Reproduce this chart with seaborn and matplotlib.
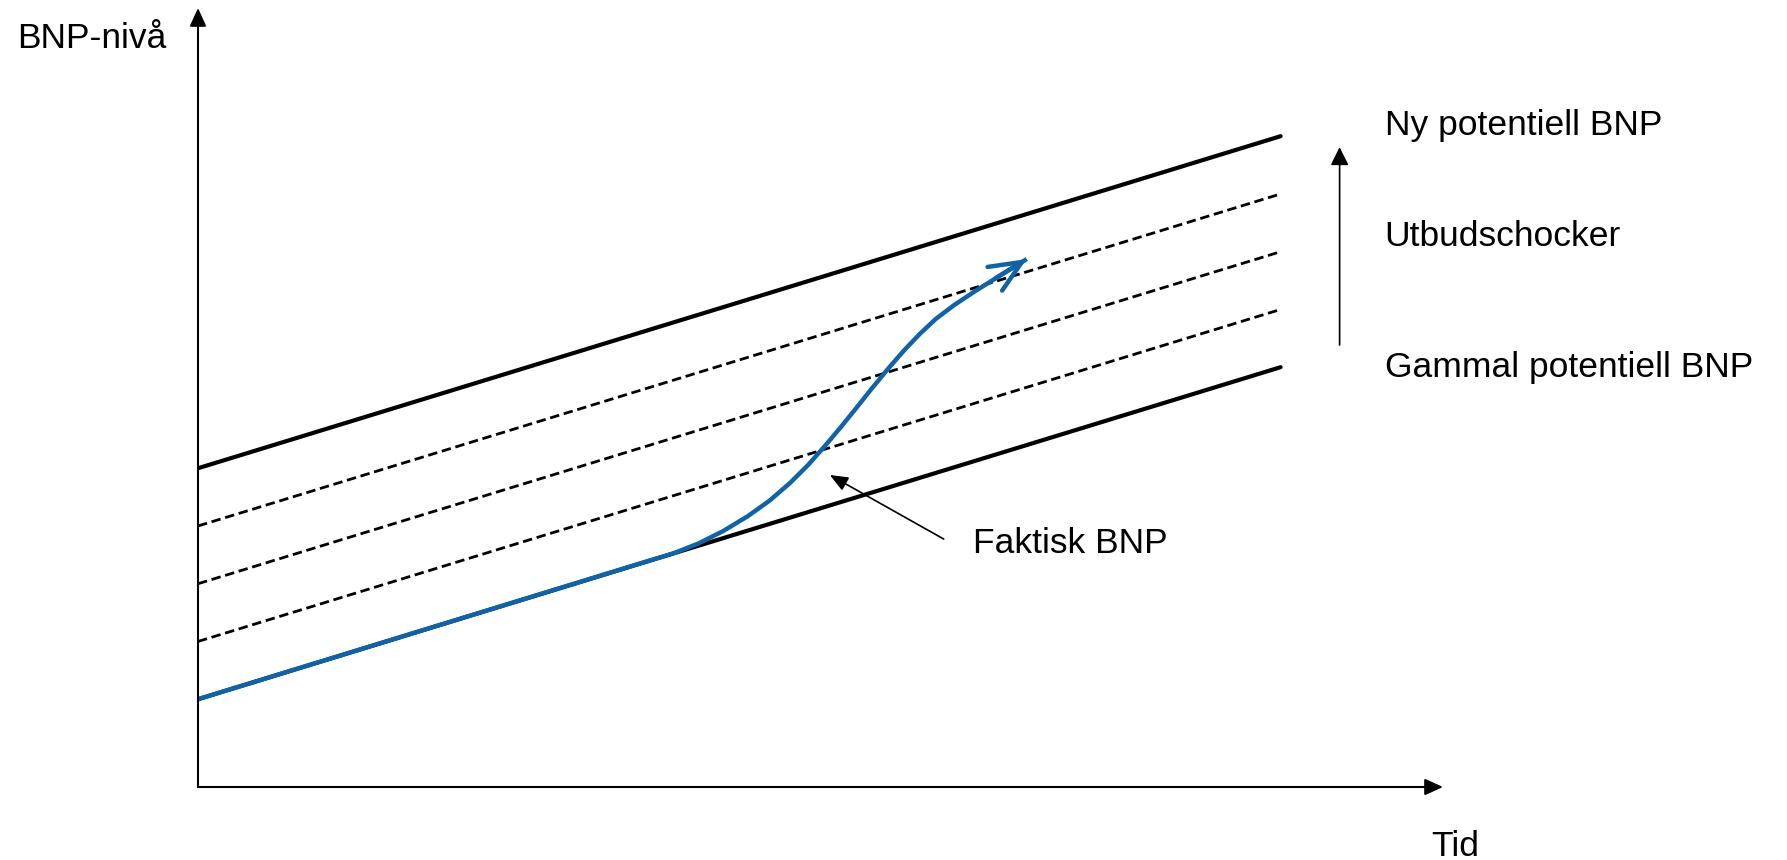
import matplotlib
matplotlib.use("Agg")
import matplotlib.pyplot as plt
import seaborn as sns
import pandas as pd
import numpy as np

# ---- data (schematic units: time t, GDP level y) ----
t_lines = [0.0, 10.0]
old_potential = [1.52, 7.27]          # Gammal potentiell BNP
new_potential = [5.52, 11.27]         # Ny potentiell BNP
shock_paths = [[2.52, 8.27], [3.52, 9.27], [4.52, 10.27]]  # intermediate (dashed)

actual_t = [0.0, 4.08, 4.39, 4.617, 4.848, 5.078, 5.282, 5.466, 5.633, 5.780,
            5.928, 6.076, 6.223, 6.371, 6.519, 6.667, 6.814, 6.981, 7.165,
            7.368, 7.655]
actual_y = [1.52, 3.87, 4.045, 4.213, 4.429, 4.689, 4.963, 5.261, 5.572, 5.882,
            6.210, 6.552, 6.899, 7.236, 7.555, 7.846, 8.104, 8.341, 8.570,
            8.810, 9.143]

label_new = "Ny potentiell BNP"
label_shock = "Utbudschocker"
label_old = "Gammal potentiell BNP"
label_actual = "Faktisk BNP"
ylabel = "BNP-nivå"
xlabel = "Tid"

BLUE = "#1063a7"

sns.set_theme(style="white")
plt.rcParams["font.family"] = ["Liberation Sans", "DejaVu Sans"]
FS = 25.5

fig = plt.figure(figsize=(17.87, 8.6), dpi=100)
W, H = 1787, 860
x0, y0 = 198, 787
x_tip, y_tip = 1443, 8
ax = fig.add_axes([x0 / W, (H - y0) / H, (x_tip - x0) / W, (y0 - y_tip) / H])
ax.set_xlim(0, 11.5)
ax.set_ylim(0, 13.49)
ax.set_axis_off()

# dashed intermediate lines
for sp in shock_paths:
    sns.lineplot(x=t_lines, y=sp, ax=ax, color="black", lw=2.0,
                 linestyle=(0, (3.4, 1.7)), legend=False)

# solid potential lines
sns.lineplot(x=t_lines, y=new_potential, ax=ax, color="black", lw=3.0, legend=False)
sns.lineplot(x=t_lines, y=old_potential, ax=ax, color="black", lw=3.0, legend=False)

# actual GDP
df_act = pd.DataFrame({"t": actual_t, "y": actual_y})
sns.lineplot(data=df_act, x="t", y="y", ax=ax, color=BLUE, lw=3.2, legend=False,
             sort=False, estimator=None)
ax.lines[-1].set_solid_capstyle("butt")
ax.lines[-1].set_solid_joinstyle("round")
ax.annotate("", xy=(actual_t[-1], actual_y[-1]), xytext=(actual_t[-2], actual_y[-2]),
            arrowprops=dict(arrowstyle="->,head_length=2.3,head_width=1.0",
                            mutation_scale=10, lw=3.2, color=BLUE,
                            shrinkA=0, shrinkB=0))

# axes arrows
ax.annotate("", xy=(0, 13.49), xytext=(0, 0),
            arrowprops=dict(arrowstyle="-|>,head_length=1.1,head_width=0.5",
                            mutation_scale=10, lw=1.5, color="black",
                            shrinkA=0, shrinkB=0), annotation_clip=False)
ax.annotate("", xy=(11.5, 0), xytext=(0, 0),
            arrowprops=dict(arrowstyle="-|>,head_length=1.1,head_width=0.5",
                            mutation_scale=10, lw=1.5, color="black",
                            shrinkA=0, shrinkB=0), annotation_clip=False)

# supply shock arrow
ax.annotate("", xy=(10.545, 11.08), xytext=(10.545, 7.654),
            arrowprops=dict(arrowstyle="-|>,head_length=1.1,head_width=0.55",
                            mutation_scale=10, lw=1.2, color="black",
                            shrinkA=0, shrinkB=0), annotation_clip=False)

# Faktisk BNP pointer
ax.annotate("", xy=(5.836, 5.403), xytext=(6.888, 4.294),
            arrowprops=dict(arrowstyle="-|>,head_length=1.1,head_width=0.45",
                            mutation_scale=10, lw=1.2, color="black",
                            shrinkA=0, shrinkB=0))

# texts
ax.text(7.156, 4.052, label_actual, fontsize=FS, va="baseline", ha="left", color="black")
ax.text(10.96, 11.29, label_new, fontsize=FS, va="baseline", ha="left", color="black")
ax.text(10.96, 9.368, label_shock, fontsize=FS, va="baseline", ha="left", color="black")
ax.text(10.96, 7.10, label_old, fontsize=FS, va="baseline", ha="left", color="black")
ax.text(-1.671, 12.797, ylabel, fontsize=FS, va="baseline", ha="left", color="black")
ax.text(11.394, -1.195, xlabel, fontsize=FS, va="baseline", ha="left", color="black")

fig.savefig("out.png", dpi=100, facecolor="white")
